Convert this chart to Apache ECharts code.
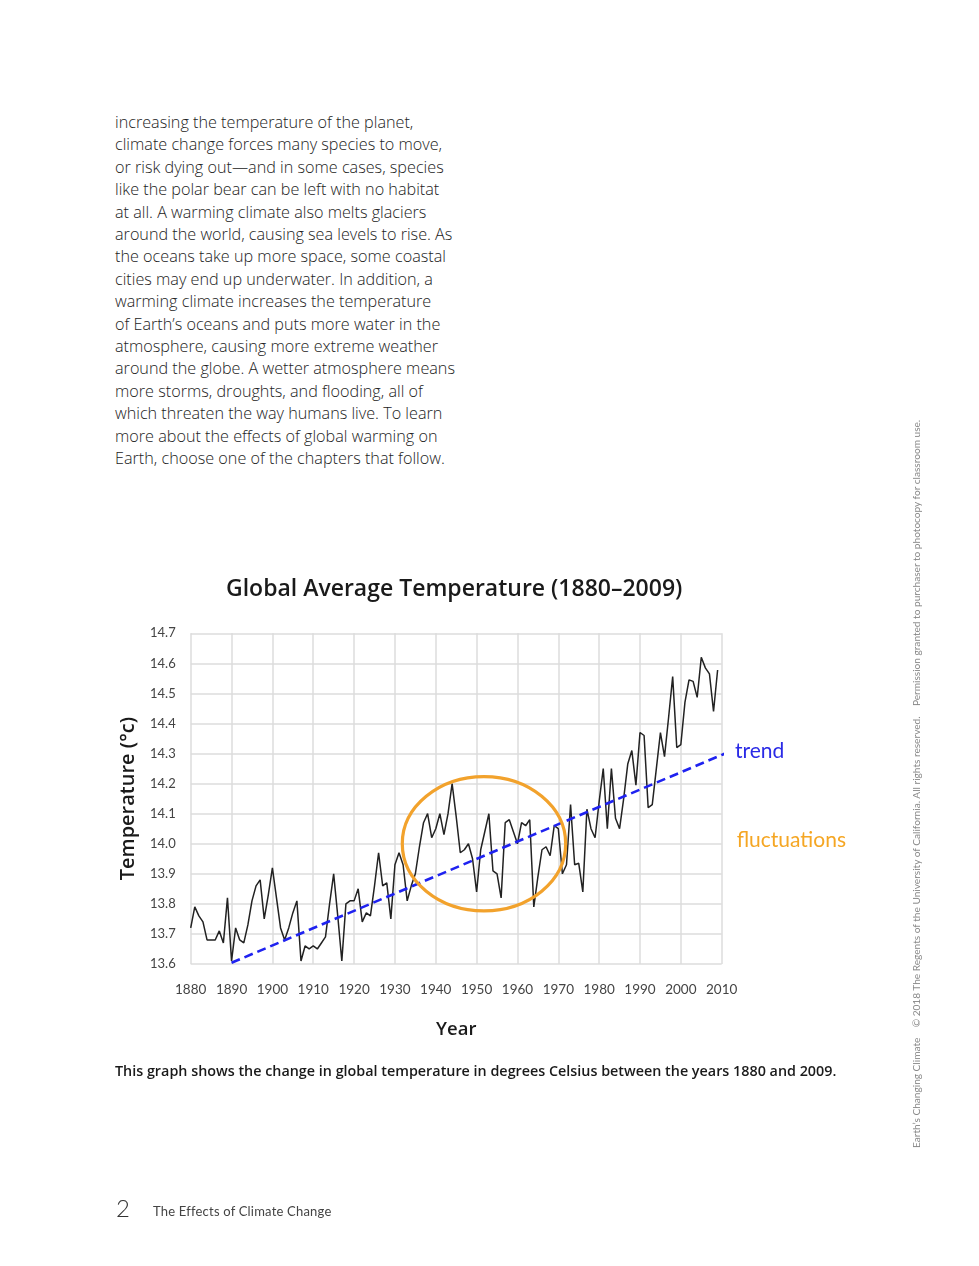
<!DOCTYPE html>
<html>
<head>
<meta charset="utf-8">
<script src="https://cdn.jsdelivr.net/npm/echarts@6/dist/echarts.min.js"></script>
<style>
  html, body { margin:0; padding:0; background:#fff; }
  body { width:979px; height:1266px; position:relative; overflow:hidden; font-family: "Open Sans", Lato, sans-serif; }
  #chart { position:absolute; left:0; top:0; width:979px; height:1266px; }
  .para { position:absolute; left:115px; top:111px; font-size:16.2px; line-height:22.4px; color:#222; font-weight:300; }
  .caption { position:absolute; left:115px; top:1061px; font-size:14.35px; font-weight:600; color:#1a1a1a; }
  .pnum { position:absolute; left:116px; top:1193px; font-size:24px; font-weight:300; color:#333; font-family: Lato, sans-serif; }
  .pfoot { position:absolute; left:153px; top:1203px; font-size:13px; color:#444; font-family: Lato, sans-serif; letter-spacing:0.2px; }
  .side { position:absolute; left:910px; top:1148px; transform-origin:0 0; transform:rotate(-90deg); white-space:nowrap; font-size:10.1px; color:#888; font-family: Lato, sans-serif; }
</style>
</head>
<body>
<div class="para">increasing the temperature of the planet,<br>climate change forces many species to move,<br>or risk dying out—and in some cases, species<br>like the polar bear can be left with no habitat<br>at all. A warming climate also melts glaciers<br>around the world, causing sea levels to rise. As<br>the oceans take up more space, some coastal<br>cities may end up underwater. In addition, a<br>warming climate increases the temperature<br>of Earth’s oceans and puts more water in the<br>atmosphere, causing more extreme weather<br>around the globe. A wetter atmosphere means<br>more storms, droughts, and flooding, all of<br>which threaten the way humans live. To learn<br>more about the effects of global warming on<br>Earth, choose one of the chapters that follow.</div>
<div id="chart"></div>
<div class="caption">This graph shows the change in global temperature in degrees Celsius between the years 1880 and 2009.</div>
<div class="pnum">2</div>
<div class="pfoot">The Effects of Climate Change</div>
<div class="side">Earth’s Changing Climate &nbsp;&nbsp; © 2018 The Regents of the University of California. All rights reserved. &nbsp;&nbsp; Permission granted to purchaser to photocopy for classroom use.</div>
<script>
// ---- data ----
const startYear = 1880;
const temps = [
  13.72, 13.79, 13.76, 13.74, 13.68, 13.68, 13.68, 13.71, 13.67, 13.82,
  13.61, 13.72, 13.68, 13.67, 13.73, 13.81, 13.86, 13.88, 13.75, 13.83,
  13.92, 13.82, 13.72, 13.68, 13.72, 13.77, 13.81, 13.61, 13.66, 13.65,
  13.66, 13.65, 13.67, 13.69, 13.80, 13.90, 13.76, 13.61, 13.80, 13.81,
  13.81, 13.85, 13.74, 13.77, 13.76, 13.86, 13.97, 13.86, 13.87, 13.75,
  13.93, 13.97, 13.93, 13.81, 13.86, 13.90, 13.99, 14.07, 14.10, 14.02,
  14.05, 14.10, 14.03, 14.10, 14.20, 14.09, 13.97, 13.98, 14.00, 13.95,
  13.84, 13.98, 14.04, 14.10, 13.91, 13.90, 13.82, 14.07, 14.08, 14.04,
  14.00, 14.07, 14.06, 14.08, 13.79, 13.89, 13.98, 13.99, 13.96, 14.06,
  14.05, 13.90, 13.93, 14.13, 13.93, 13.935, 13.84, 14.115, 14.05, 14.02,
  14.14, 14.25, 14.05, 14.25, 14.085, 14.05, 14.15, 14.265, 14.31, 14.195,
  14.37, 14.36, 14.12, 14.13, 14.25, 14.37, 14.29, 14.42, 14.556, 14.32,
  14.33, 14.47, 14.545, 14.54, 14.487, 14.62, 14.585, 14.565, 14.44, 14.578
];
const trendYears = [1890, 2010.8];
const trendTemps = [13.604, 14.30];
const xTicks = [1880, 1890, 1900, 1910, 1920, 1930, 1940, 1950, 1960, 1970, 1980, 1990, 2000, 2010];
const yTicks = [13.6, 13.7, 13.8, 13.9, 14.0, 14.1, 14.2, 14.3, 14.4, 14.5, 14.6, 14.7];
// fluctuation ellipse annotation (data units)
const ellipseCenter = [1951.8, 14.0];
const ellipseRadius = [20.0, 0.223];

const years = temps.map((_, i) => startYear + i);
const tempData = years.map((y, i) => [y, temps[i]]);
const trendData = trendYears.map((y, i) => [y, trendTemps[i]]);

const chart = echarts.init(document.getElementById('chart'), null, { renderer: 'canvas' });
const gridColor = '#dcdcdc';
const boldFont = 'Open Sans';
const option = {
  animation: false,
  title: {
    text: 'Global Average Temperature (1880–2009)',
    left: 226, top: 578, padding: 0,
    textStyle: { fontFamily: boldFont, fontSize: 23, fontWeight: 600, color: '#1a1a1a' }
  },
  grid: { left: 190.7, top: 633.3, width: 531, height: 330.7, show: false },
  xAxis: {
    type: 'value', min: xTicks[0], max: xTicks[xTicks.length - 1], interval: 10,
    name: 'Year', nameLocation: 'middle', nameGap: 56,
    nameTextStyle: { fontFamily: boldFont, fontSize: 18.5, fontWeight: 600, color: '#1a1a1a' },
    axisLine: { show: false }, axisTick: { show: false },
    axisLabel: { margin: 19, fontFamily: 'Lato', fontSize: 13.5, color: '#444',
      formatter: v => xTicks.includes(v) ? String(v) : '' },
    splitLine: { show: true, lineStyle: { color: gridColor, width: 1.5 } }
  },
  yAxis: {
    type: 'value', min: yTicks[0], max: yTicks[yTicks.length - 1], interval: 0.1,
    name: 'Temperature (°c)', nameLocation: 'middle', nameGap: 52, nameRotate: 90,
    nameTextStyle: { fontFamily: boldFont, fontSize: 20, fontWeight: 600, color: '#1a1a1a' },
    axisLine: { show: false }, axisTick: { show: false },
    axisLabel: { margin: 15, fontFamily: 'Lato', fontSize: 13, color: '#444',
      formatter: v => v.toFixed(1) },
    splitLine: { show: true, lineStyle: { color: gridColor, width: 1.5 } }
  },
  series: [
    {
      name: 'temperature', type: 'line', data: tempData, symbol: 'none',
      lineStyle: { color: '#222', width: 1.5 }, z: 3
    },
    {
      name: 'trend', type: 'line', data: trendData, symbol: 'none', clip: false,
      lineStyle: { color: '#1f22f0', width: 2.6, type: [9, 5] }, z: 4,
      endLabel: { show: true, formatter: 'trend', color: '#2a2ae6', fontFamily: 'Lato', fontSize: 21, distance: 11, offset: [0, -3] }
    }
  ]
};
chart.setOption(option);

// annotations placed through the chart's own coordinate system
const c = chart.convertToPixel({ gridIndex: 0 }, ellipseCenter);
const e = chart.convertToPixel({ gridIndex: 0 }, [ellipseCenter[0] + ellipseRadius[0], ellipseCenter[1] + ellipseRadius[1]]);
const endPt = chart.convertToPixel({ gridIndex: 0 }, [2010, 14.0]);
chart.setOption({
  graphic: [
    {
      type: 'ellipse', z: 10,
      shape: { cx: c[0], cy: c[1], rx: Math.abs(e[0] - c[0]), ry: Math.abs(c[1] - e[1]) },
      style: { fill: 'none', stroke: '#F2A22C', lineWidth: 3.2 }
    },
    {
      type: 'text', z: 10, x: endPt[0] + 15, y: endPt[1] - 14,
      style: { text: 'fluctuations', fill: '#F5A623', font: '21px Lato' }
    }
  ]
});
</script>
</body>
</html>
